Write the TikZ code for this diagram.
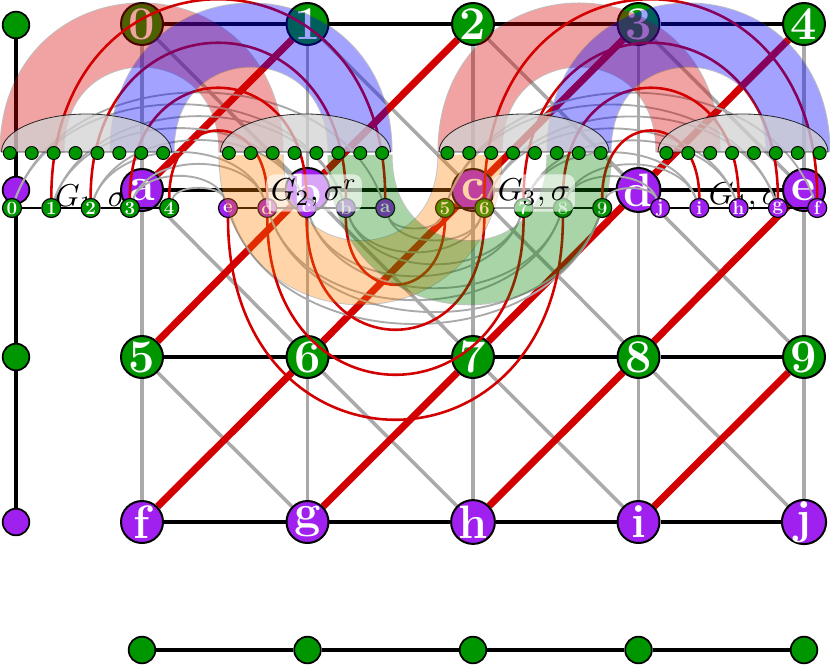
\documentclass[tikz,border=0pt]{standalone}
\usepackage{fontspec}
\definecolor{ngreen}{RGB}{0,150,0}
\definecolor{npurple}{RGB}{160,32,240}
\definecolor{ered}{RGB}{210,0,0}
\definecolor{egray}{RGB}{170,170,170}
\pgfdeclarelayer{gedges}
\pgfdeclarelayer{gnodes}
\pgfdeclarelayer{arcs}
\pgfdeclarelayer{snodes}
\pgfdeclarelayer{bands}
\pgfdeclarelayer{domes}
\pgfdeclarelayer{dots}
\pgfsetlayers{gedges,gnodes,arcs,snodes,bands,domes,dots,main}
\begin{document}
\begin{tikzpicture}[x=0.03cm,y=-0.03cm,
  big/.style={circle,draw=black,line width=1.7pt,minimum size=1.26cm,inner sep=0pt,text=white,font=\fontsize{40}{40}\selectfont\bfseries},
  bgn/.style={big,fill=ngreen},
  bpn/.style={big,fill=npurple},
  sm/.style={circle,draw=black,line width=1pt,minimum size=0.57cm,inner sep=0pt,text=white,font=\fontsize{16}{16}\selectfont\bfseries},
  sgn/.style={sm,fill=ngreen},
  spn/.style={sm,fill=npurple},
  gdot/.style={circle,draw=black,line width=0.8pt,fill=ngreen,minimum size=0.39cm,inner sep=0pt},
  pdot/.style={circle,draw=black,line width=1.5pt,minimum size=0.8cm,inner sep=0pt},
  gv/.style={egray,line width=3pt},
  hb/.style={black,line width=2.8pt},
  rd/.style={ered,line width=6pt},
  redarc/.style={ered,line width=2.2pt},
  grayarc/.style={egray,line width=1.6pt},
  bandout/.style={black!70,line width=55.5pt},
  dome/.style={draw=black,draw opacity=0.8,line width=0.7pt,fill=black!18,fill opacity=0.75},
  lab/.style={inner sep=4pt},
  labbox/.style={lab,fill=white,fill opacity=0.6,text opacity=1,rounded corners=7pt}]
\useasboundingbox (0,0) rectangle (830,667);

% ---------- grid nodes ----------
\begin{pgfonlayer}{gnodes}
\foreach \n/\x in {0/142,1/307.5,2/473,3/638.5,4/804} \node[bgn] (n\n) at (\x,24) {\n};
\foreach \n/\x in {a/142,b/307.5,c/473,d/638.5,e/804} \node[bpn] (n\n) at (\x,190) {\n};
\foreach \n/\x in {5/142,6/307.5,7/473,8/638.5,9/804} \node[bgn] (n\n) at (\x,357) {\n};
\foreach \n/\x in {f/142,g/307.5,h/473,i/638.5,j/804} \node[bpn] (n\n) at (\x,522) {\n};
% factor paths
\node[pdot,fill=ngreen] (l1) at (16,25) {};
\node[pdot,fill=npurple] (l2) at (16,190) {};
\node[pdot,fill=ngreen] (l3) at (16,357) {};
\node[pdot,fill=npurple] (l4) at (16,522) {};
\foreach \k/\x in {1/142,2/307.5,3/473,4/638.5,5/804} \node[pdot,fill=ngreen] (b\k) at (\x,650) {};
\end{pgfonlayer}

% ---------- grid edges ----------
\begin{pgfonlayer}{gedges}
\foreach \p/\q/\r/\s in {0/a/5/f,1/b/6/g,2/c/7/h,3/d/8/i,4/e/9/j}
  \draw[gv] (n\p)--(n\q)--(n\r)--(n\s);
\foreach \p/\q in {0/b,1/c,2/d,3/e,a/6,b/7,c/8,d/9,5/g,6/h,7/i,8/j}
  \draw[gv] (n\p)--(n\q);
\draw[hb] (n0)--(n1)--(n2)--(n3)--(n4);
\draw[hb] (na)--(nb)--(nc)--(nd)--(ne);
\draw[hb] (n5)--(n6)--(n7)--(n8)--(n9);
\draw[hb] (nf)--(ng)--(nh)--(ni)--(nj);
\foreach \p/\q in {a/1,b/2,c/3,d/4,5/b,6/c,7/d,8/e,f/6,g/7,h/8,i/9}
  \draw[rd] (n\p)--(n\q);
\draw[hb] (l1)--(l2)--(l3)--(l4);
\draw[hb] (b1)--(b2)--(b3)--(b4)--(b5);
\node[lab] at (91,199) {\scalebox{2.7}{$G_1,\sigma$}};
\node[lab] at (752,197) {\scalebox{2.7}{$G_4,\sigma^r$}};
\end{pgfonlayer}

% ---------- small nodes ----------
\begin{pgfonlayer}{snodes}
\foreach \l [count=\i from 0] in {0,1,2,3,4} \node[sgn] (s\l) at ({12+39.3*\i},208) {\l};
\foreach \l [count=\i from 0] in {e,d,c,b,a} \node[spn] (s\l) at ({228+39.3*\i},208) {\l};
\foreach \l [count=\i from 0] in {5,6,7,8,9} \node[sgn] (s\l) at ({445+39.3*\i},208) {\l};
\foreach \l [count=\i from 0] in {j,i,h,g,f} \node[spn] (s\l) at ({660+39.3*\i},208) {\l};
\end{pgfonlayer}

% ---------- arcs ----------
\begin{pgfonlayer}{arcs}
\draw[black,line width=1.2pt] (s0)--(s1)--(s2)--(s3)--(s4);
\draw[black,line width=1.2pt] (se)--(sd)--(sc)--(sb)--(sa);
\draw[black,line width=1.2pt] (s5)--(s6)--(s7)--(s8)--(s9);
\draw[black,line width=1.2pt] (sj)--(si)--(sh)--(sg)--(sf);
% gray arcs up
\foreach \p/\q/\D in {0/a/373,1/b/294.6,2/c/216,3/d/137.4,4/e/58.8,0/b/334,1/c/255.3,2/d/176.7,3/e/98.1,
                      5/f/372.2,6/g/293.6,7/h/215,8/i/136.4,9/j/57.8,5/g/332.9,6/h/254.3,7/i/175.7,8/j/97.1}
  \draw[grayarc] (s\p) .. controls +({0.147*\D},{-0.405*\D}) and +({-0.147*\D},{-0.405*\D}) .. (s\q);
% gray arcs down
\foreach \p/\q/\D in {a/5/59.8,b/6/138.4,c/7/217,d/8/295.6,e/9/374.2,a/6/99.1,b/7/177.7,c/8/256.3,d/9/334.9}
  \draw[grayarc] (s\p) .. controls +({0.147*\D},{0.405*\D}) and +({-0.147*\D},{0.405*\D}) .. (s\q);
% red arcs
\foreach \p/\q/\h in {1/a/275,2/b/217,3/c/157,4/d/100,6/f/275,7/g/217,8/h/157,9/i/100}
  \draw[redarc] (s\p) .. controls +(0,-\h) and +(0,-\h) .. (s\q);
\foreach \p/\q/\h in {e/8/279,d/7/219,c/6/159,b/5/99}
  \draw[redarc] (s\p) .. controls +(0,\h) and +(0,\h) .. (s\q);
\end{pgfonlayer}

% ---------- bands ----------
\begin{pgfonlayer}{bands}
\foreach \u/\v/\col in {32/251/red!85!black,142/360/blue,470/688/red!85!black,579/798/blue}
{
  \begin{scope}[transparency group,opacity=0.36]
    \draw[bandout] (\u,152) .. controls (\u,-4) and (\v,-4) .. (\v,152);
    \draw[\col,line width=54pt] (\u,152) .. controls (\u,-4) and (\v,-4) .. (\v,152);
  \end{scope}
}
\foreach \u/\v/\col in {251/470/orange,360/579/green!50!black}
{
  \begin{scope}[transparency group,opacity=0.34]
    \draw[bandout] (\u,155) .. controls (\u,312) and (\v,312) .. (\v,155);
    \draw[\col,line width=54pt] (\u,155) .. controls (\u,312) and (\v,312) .. (\v,155);
  \end{scope}
}
\end{pgfonlayer}

% ---------- domes and dots ----------
\begin{pgfonlayer}{domes}
\foreach \c in {86.5,305.5,524,743}
  \draw[dome] (\c-85,152) arc[start angle=180,end angle=0,x radius=2.55cm,y radius=1.14cm] -- cycle;
\end{pgfonlayer}
\begin{pgfonlayer}{dots}
\foreach \c [count=\k] in {86.5,305.5,524,743}
  \foreach \i in {0,...,7}
    \node[gdot] (d\k\i) at ({\c+(\i-3.5)*21.9},153) {};
\end{pgfonlayer}

% ---------- labels ----------
\node[labbox] at (314,193) {\scalebox{2.7}{$G_2,\sigma^r$}};
\node[labbox] at (534,193) {\scalebox{2.7}{$G_3,\sigma$}};
\end{tikzpicture}
\end{document}
